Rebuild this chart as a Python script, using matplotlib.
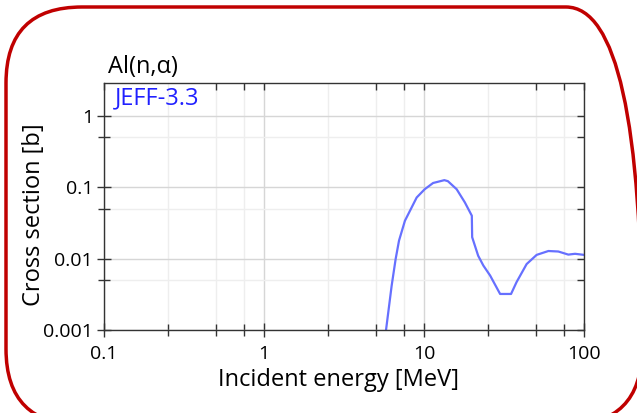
import matplotlib.pyplot as plt
import matplotlib.ticker as mticker
from matplotlib.patches import FancyBboxPatch
from matplotlib.transforms import IdentityTransform

plt.rcParams['font.family'] = ['Open Sans', 'DejaVu Sans']

# Al(n,alpha) cross section, JEFF-3.3
energy = [5.6, 5.79, 6.28, 6.65, 6.98, 7.6, 9.0, 10.1, 11.4, 13.4, 14.1, 16.0,
          18.0, 19.9, 20.0, 21.8, 23.5, 25.9, 29.9, 35.0, 37.9, 43.8, 50.6,
          59.9, 69.1, 79.8, 87.9, 100.0]
xs = [0.0007, 0.001, 0.0042, 0.0099, 0.0179, 0.034, 0.072, 0.094, 0.115, 0.126,
      0.122, 0.094, 0.0615, 0.040, 0.020, 0.011, 0.008, 0.0058, 0.0032, 0.0032,
      0.0047, 0.0084, 0.0113, 0.0128, 0.0126, 0.0114, 0.0117, 0.0113]
xticks = [0.1, 1, 10, 100]
xtick_labels = ['0.1', '1', '10', '100']
yticks = [0.001, 0.01, 0.1, 1]
ytick_labels = ['0.001', '0.01', '0.1', '1']
xlim = (0.1, 100)
ylim = (0.001, 2.9)

fig = plt.figure(figsize=(6.37, 4.13), dpi=100)
W, H = 637, 413
rect = [104 / W, 1 - 330 / H, 480 / W, 247 / H]
ax = fig.add_axes(rect)

ax.plot(energy, xs, color='#6670ff', lw=1.6)
ax.set_xscale('log')
ax.set_yscale('log')
ax.set_xlim(*xlim)
ax.set_ylim(*ylim)

ax.set_xticks(xticks)
ax.set_xticklabels(xtick_labels)
ax.set_yticks(yticks)
ax.set_yticklabels(ytick_labels)
ax.xaxis.set_minor_locator(mticker.LogLocator(base=10, subs=[2.5, 5, 7.5]))
ax.yaxis.set_minor_locator(mticker.LogLocator(base=10, subs=[5]))
ax.xaxis.set_minor_formatter(mticker.NullFormatter())
ax.yaxis.set_minor_formatter(mticker.NullFormatter())

ax.grid(which='major', color='#d6d6d6', lw=1)
ax.grid(which='minor', color='#eeeeee', lw=1)
# left/bottom ticks cross the spine
ax.tick_params(which='both', direction='inout', labelsize=14, width=1,
               color='#333333')
ax.tick_params(which='both', axis='x', pad=6)
ax.tick_params(which='both', axis='y', pad=3)
ax.tick_params(which='major', length=10)
ax.tick_params(which='minor', length=8)
for s in ax.spines.values():
    s.set_linewidth(1)
    s.set_color('#333333')

# top/right ticks point inwards: an overlay axes without data
ov = fig.add_axes(rect)
ov.set_xscale('log')
ov.set_yscale('log')
ov.set_xlim(*xlim)
ov.set_ylim(*ylim)
ov.patch.set_visible(False)
ov.set_xticks(xticks)
ov.set_yticks(yticks)
ov.xaxis.set_minor_locator(mticker.LogLocator(base=10, subs=[5, 7.5]))
ov.yaxis.set_minor_locator(mticker.LogLocator(base=10, subs=[5]))
ov.tick_params(which='both', direction='in', length=5, width=1,
               color='#333333', top=True, right=True, bottom=False, left=False,
               labelbottom=False, labelleft=False)
for s in ov.spines.values():
    s.set_visible(False)

ax.set_xlabel('Incident energy [MeV]', fontsize=17)
ax.set_ylabel('Cross section [b]', fontsize=17)
ax.xaxis.set_label_coords(0.4875, -0.152)
ax.yaxis.set_label_coords(-0.12, 0.466)
ax.text(0.008, 1.015, 'Al(n,α)', transform=ax.transAxes, fontsize=17,
        ha='left', va='bottom')
ax.text(0.022, 0.985, 'JEFF-3.3', transform=ax.transAxes, fontsize=17,
        color='#2020ff', ha='left', va='top')

# rounded frame around the whole chart
frame = FancyBboxPatch((6, -12), 636, H + 5,
                       boxstyle='round,pad=0,rounding_size=76',
                       transform=IdentityTransform(), fill=False,
                       edgecolor='#c00000', lw=2.5)
fig.patches.append(frame)

fig.savefig('out.png', dpi=100)
